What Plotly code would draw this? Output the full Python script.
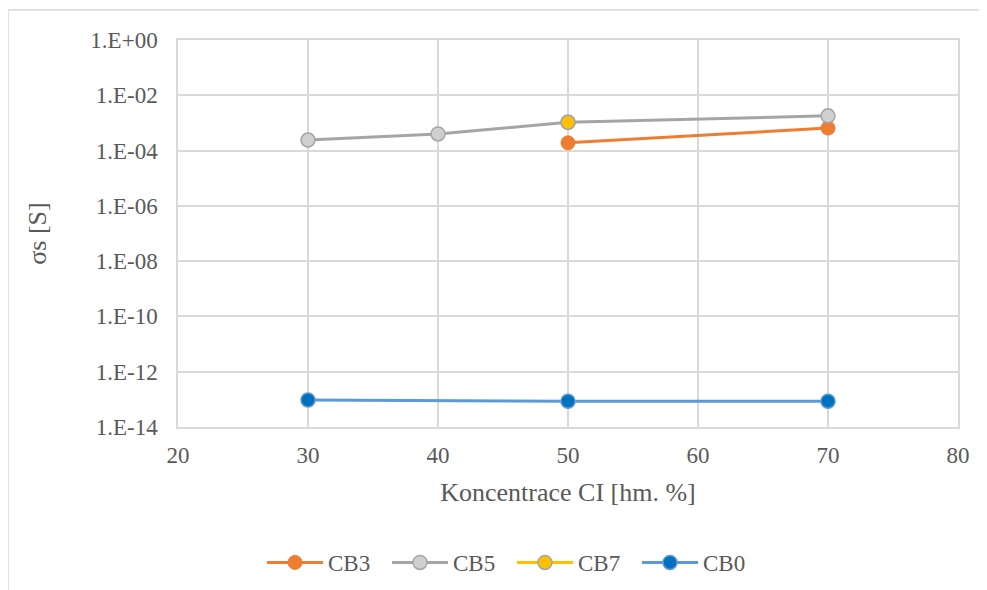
import plotly.graph_objects as go

x_cb3 = [50, 70]
y_cb3 = [1.9e-4, 6.5e-4]
x_cb5 = [30, 40, 50, 70]
y_cb5 = [2.4e-4, 4.0e-4, 1.05e-3, 1.8e-3]
x_cb7 = [50]
y_cb7 = [1.05e-3]
x_cb0 = [30, 50, 70]
y_cb0 = [9.5e-14, 8.6e-14, 8.6e-14]

ytick_vals = [1e0, 1e-2, 1e-4, 1e-6, 1e-8, 1e-10, 1e-12, 1e-14]
ytick_text = ["1.E+00", "1.E-02", "1.E-04", "1.E-06", "1.E-08", "1.E-10", "1.E-12", "1.E-14"]

font = "Liberation Serif"
W, H = 979, 582
L, R, T, B = 170, 29, 32, 163
PW = W - L - R
PH = H - T - B

fig = go.Figure()
fig.add_trace(go.Scatter(x=x_cb3, y=y_cb3, name="CB3", mode="lines+markers",
                         line=dict(color="#ED7D31", width=3),
                         marker=dict(size=14, color="#ED7D31", line=dict(color="#ED7D31", width=1))))
fig.add_trace(go.Scatter(x=x_cb5, y=y_cb5, name="CB5", mode="lines+markers",
                         line=dict(color="#A5A5A5", width=3),
                         marker=dict(size=14, color="#D0CECE", line=dict(color="#A5A5A5", width=1.5))))
fig.add_trace(go.Scatter(x=x_cb7, y=y_cb7, name="CB7", mode="lines+markers",
                         line=dict(color="#FFC000", width=3),
                         marker=dict(size=14, color="#FFC000", line=dict(color="#A5A5A5", width=1.5))))
fig.add_trace(go.Scatter(x=x_cb0, y=y_cb0, name="CB0", mode="lines+markers",
                         line=dict(color="#5B9BD5", width=3),
                         marker=dict(size=14, color="#0070C0", line=dict(color="#5B9BD5", width=1.5))))

fig.update_layout(
    width=W, height=H,
    margin=dict(l=L, r=R, t=T, b=B, autoexpand=False),
    paper_bgcolor="white", plot_bgcolor="white",
    font=dict(family=font, color="#595959", size=23),
    showlegend=True,
    legend=dict(orientation="h", x=(254 - L) / PW, xanchor="left", y=-0.35, yanchor="middle",
                font=dict(family=font, size=23, color="#595959"),
                itemwidth=56, entrywidth=54, entrywidthmode="pixels", tracegroupgap=0),
    xaxis=dict(range=[20, 80], tickvals=[20, 30, 40, 50, 60, 70, 80], automargin=False,
               showgrid=True, gridcolor="#D9D9D9", gridwidth=1.5,
               showline=True, linecolor="#D9D9D9", linewidth=1.5, mirror=True,
               zeroline=False, ticks="", tickfont=dict(family=font, size=23),
               ticklabelstandoff=7,
               title=dict(text="Koncentrace CI [hm. %]", font=dict(family=font, size=26), standoff=15)),
    yaxis=dict(type="log", range=[-14, 0], tickvals=ytick_vals, ticktext=ytick_text, automargin=False,
               showgrid=True, gridcolor="#D9D9D9", gridwidth=1.5,
               showline=True, linecolor="#D9D9D9", linewidth=1.5, mirror=True,
               zeroline=False, ticks="", tickfont=dict(family=font, size=23),
               ticklabelstandoff=14,
               title=dict(text="σs [S]", font=dict(family=font, size=26), standoff=36)),
    shapes=[dict(type="rect", xref="paper", yref="paper",
                 x0=(0 - L) / PW, x1=(990 - L) / PW,
                 y0=(PH + 30 - 600) / PH, y1=(PH + T - 2) / PH,
                 line=dict(color="#D9D9D9", width=1.5), fillcolor="rgba(0,0,0,0)", layer="below")],
)

fig.write_html("out.html")
